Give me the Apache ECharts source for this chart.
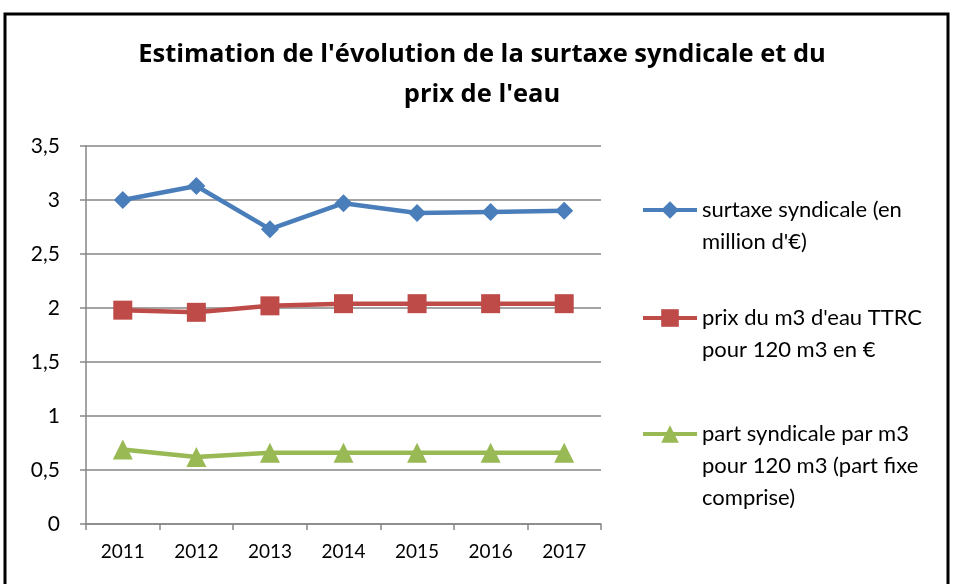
<!DOCTYPE html>
<html>
<head>
<meta charset="utf-8">
<style>
  html, body { margin: 0; padding: 0; background: #fff; }
  #chart { width: 959px; height: 584px; }
</style>
<script src="https://cdn.jsdelivr.net/npm/echarts@6/dist/echarts.min.js"></script>
</head>
<body>
<div id="chart"></div>
<script>
  // data
  const years = ['2011', '2012', '2013', '2014', '2015', '2016', '2017']
  const surtaxe = [3.0, 3.13, 2.73, 2.97, 2.88, 2.89, 2.9]
  const prixEau = [1.98, 1.96, 2.02, 2.04, 2.04, 2.04, 2.04]
  const partSyndicale = [0.69, 0.62, 0.66, 0.66, 0.66, 0.66, 0.66]

  const nameSurtaxe = "surtaxe syndicale (en\nmillion d'€)"
  const namePrix = "prix du m3 d'eau TTRC\npour 120 m3 en €"
  const namePart = 'part syndicale par m3\npour 120 m3 (part fixe\ncomprise)'

  const font = 'Lato'
  const lh = 32

  // one legend per item; blank lines on top keep the icon on the first text line
  function legendFor(name, lines, iconY) {
    return {
      data: [name],
      left: 636,
      top: iconY - (2 * lines - 1) * lh / 2 - 5,
      itemWidth: 54,
      itemHeight: 22,
      itemGap: 0,
      selectedMode: false,
      formatter: n => '\n'.repeat(lines - 1) + n,
      lineStyle: { width: 4 },
      textStyle: {
        fontFamily: font,
        fontSize: 22,
        color: '#000',
        lineHeight: lh
      }
    }
  }

  const chart = echarts.init(document.getElementById('chart'))

  chart.setOption({
    animation: false,
    backgroundColor: '#fff',
    title: {
      text: "Estimation de l'évolution de la surtaxe syndicale et du\nprix de l'eau",
      left: 477,
      textAlign: 'center',
      top: 30,
      textStyle: {
        fontFamily: 'Open Sans',
        fontSize: 25.5,
        fontWeight: 'bold',
        color: '#000',
        lineHeight: 40
      }
    },
    legend: [
      legendFor(nameSurtaxe, 2, 210),
      legendFor(namePrix, 2, 318),
      legendFor(namePart, 3, 434)
    ],
    grid: {
      left: 86,
      right: 358,
      top: 146,
      bottom: 60
    },
    xAxis: {
      type: 'category',
      data: years,
      boundaryGap: true,
      axisLine: { lineStyle: { color: '#868686', width: 1.5 } },
      axisTick: { show: true, length: 6, lineStyle: { color: '#868686', width: 1.5 } },
      axisLabel: { fontFamily: font, fontSize: 19, color: '#000', margin: 18 }
    },
    yAxis: {
      type: 'value',
      min: 0,
      max: 3.5,
      interval: 0.5,
      axisLine: { show: true, lineStyle: { color: '#868686', width: 1.5 } },
      axisTick: { show: true, length: 6, lineStyle: { color: '#868686', width: 1.5 } },
      splitLine: { lineStyle: { color: '#868686', width: 1.5 } },
      axisLabel: {
        fontFamily: font,
        fontSize: 21,
        color: '#000',
        margin: 26,
        formatter: v => String(v).replace('.', ',')
      }
    },
    series: [
      {
        name: nameSurtaxe,
        type: 'line',
        data: surtaxe,
        symbol: 'diamond',
        symbolSize: 18,
        color: '#4A7EBB',
        lineStyle: { width: 4.5 }
      },
      {
        name: namePrix,
        type: 'line',
        data: prixEau,
        symbol: 'rect',
        symbolSize: 19,
        color: '#BE4B48',
        lineStyle: { width: 4.5 }
      },
      {
        name: namePart,
        type: 'line',
        data: partSyndicale,
        symbol: 'triangle',
        symbolSize: 20,
        color: '#98B954',
        lineStyle: { width: 4.5 }
      }
    ],
    graphic: [
      {
        type: 'rect',
        shape: { x: 5, y: 14, width: 943, height: 640 },
        style: { fill: 'none', stroke: '#000', lineWidth: 3 },
        silent: true
      }
    ]
  })
</script>
</body>
</html>
